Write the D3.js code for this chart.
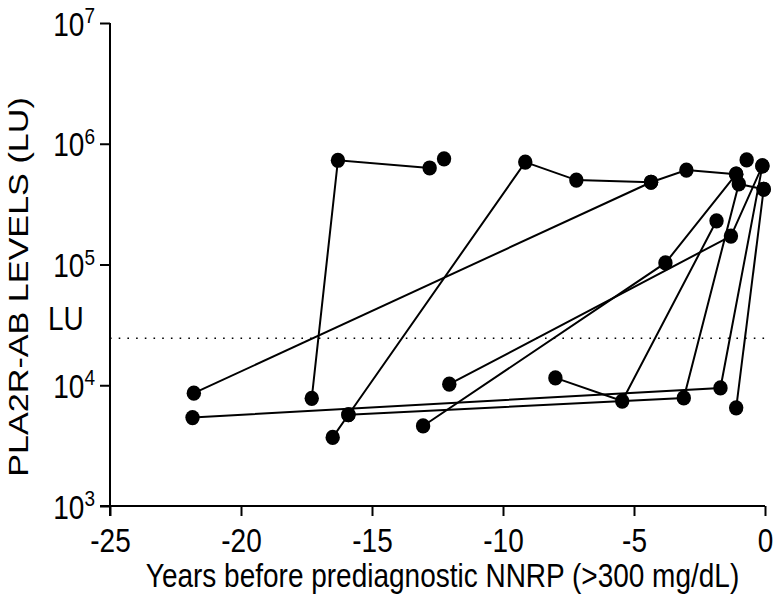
<!DOCTYPE html>
<html>
<head>
<meta charset="utf-8">
<script src="https://cdn.jsdelivr.net/npm/d3@7"></script>
<style>
  html, body { margin: 0; padding: 0; background: #fff; }
  svg { display: block; font-family: "Liberation Sans", Arial, Helvetica, sans-serif; }
</style>
</head>
<body>
<svg id="chart" width="777" height="595"></svg>
<script>
// ---- Data (years before NNRP, PLA2R-Ab level in LU) ----
const patientA = [[-17.3, 7800], [-16.3, 730000], [-12.8, 630000]];
const patientB = [[-12.25, 750000]];
const patientC = [[-16.5, 3700], [-15.9, 5700], [-9.15, 705000], [-7.2, 500000], [-4.35, 480000], [-3.0, 605000], [-1.1, 560000]];
const patientD = [[-21.8, 8600], [-4.35, 480000]];
const patientE = [[-21.85, 5400], [-1.7, 9500], [-0.1, 655000]];
const patientF = [[-15.9, 5700], [-3.1, 7850], [-1.0, 465000], [-0.05, 420000]];
const patientG = [[-1.1, 6500], [-0.05, 420000]];
const patientH = [[-12.05, 10200], [-1.3, 172000], [-0.1, 655000]];
const patientI = [[-13.05, 4600], [-3.8, 103000], [-1.1, 560000]];
const patientJ = [[-8.0, 11500], [-5.45, 7400], [-1.85, 230000]];
const patientK = [[-0.7, 735000]];
const patients = [patientA, patientB, patientC, patientD, patientE, patientF, patientG, patientH, patientI, patientJ, patientK];

const xTicks = [-25, -20, -15, -10, -5, 0];
const yTicks = [1e3, 1e4, 1e5, 1e6, 1e7];
const cutoff = 24500;
const xTitle = "Years before prediagnostic NNRP (>300 mg/dL)";
const yTitle = "PLA2R-AB LEVELS (LU)";
const cutoffLabel = "LU";

// ---- Layout ----
const mLeft = 110, mRight = 765, mTop = 23, mBottom = 506;
const fs = 28, stretch = 1.2;
const svg = d3.select("#chart");

const x = d3.scaleLinear().domain([-25, 0]).range([mLeft, mRight]);
const y = d3.scaleLog().domain([1e3, 1e7]).range([mBottom, mTop]);

// Axes
const xAxis = svg.append("g")
  .attr("transform", `translate(0,${mBottom})`)
  .call(d3.axisBottom(x).tickValues(xTicks).tickFormat(d => String(d)).tickSize(10).tickSizeOuter(0));
xAxis.select(".domain").attr("stroke", "#000").attr("stroke-width", 2).attr("d", `M${mLeft - 10},0H${mRight}`);
xAxis.selectAll(".tick line").attr("stroke", "#000").attr("stroke-width", 2);
xAxis.selectAll(".tick text")
  .attr("y", 0).attr("dy", 0)
  .attr("transform", `translate(0,46) scale(1,${stretch})`)
  .attr("font-size", fs).attr("fill", "#000")
  .attr("font-family", '"Liberation Sans", Arial, sans-serif');

const yAxis = svg.append("g")
  .attr("transform", `translate(${mLeft},0)`)
  .call(d3.axisLeft(y).tickValues(yTicks).tickFormat("").tickSize(10).tickSizeOuter(0));
yAxis.select(".domain").attr("stroke", "#000").attr("stroke-width", 2).attr("d", `M0,${mTop}V${mBottom + 10}`);
yAxis.selectAll(".tick line").attr("stroke", "#000").attr("stroke-width", 2);
yAxis.selectAll(".tick").each(function(d) {
  const t = d3.select(this).append("text")
    .attr("x", -15).attr("dy", "0.36em").attr("text-anchor", "end")
    .attr("transform", `scale(1,${stretch})`)
    .attr("font-size", fs).attr("fill", "#000");
  t.append("tspan").text("10");
  t.append("tspan").attr("font-size", 19).attr("dy", "-0.55em").text(String(Math.round(Math.log10(d))));
});

// Cutoff dotted line
svg.append("line")
  .attr("x1", mLeft).attr("x2", mRight)
  .attr("y1", y(cutoff)).attr("y2", y(cutoff))
  .attr("stroke", "#000").attr("stroke-width", 1.6)
  .attr("stroke-dasharray", "1.6,7.1");
svg.append("text")
  .attr("transform", `translate(48,${y(cutoff) - 8}) scale(1,${stretch})`)
  .attr("font-size", fs).attr("fill", "#000")
  .text(cutoffLabel);

// Patient lines and points
const line = d3.line().x(d => x(d[0])).y(d => y(d[1]));
svg.append("g").selectAll("path")
  .data(patients.filter(p => p.length > 1))
  .join("path")
  .attr("d", line)
  .attr("fill", "none").attr("stroke", "#000").attr("stroke-width", 2);

svg.append("g").selectAll("ellipse")
  .data(patients.flat())
  .join("ellipse")
  .attr("cx", d => x(d[0])).attr("cy", d => y(d[1]))
  .attr("rx", 7.2).attr("ry", 7.6).attr("fill", "#000");

// Titles
svg.append("text")
  .attr("transform", `translate(${(mLeft + mRight) / 2 + 5},587) scale(1,${stretch})`)
  .attr("text-anchor", "middle").attr("font-size", fs).attr("fill", "#000")
  .text(xTitle);
svg.append("text")
  .attr("transform", `translate(28,287) scale(1,1.22) rotate(-90)`)
  .attr("text-anchor", "middle").attr("font-size", fs).attr("fill", "#000")
  .text(yTitle);
</script>
</body>
</html>
